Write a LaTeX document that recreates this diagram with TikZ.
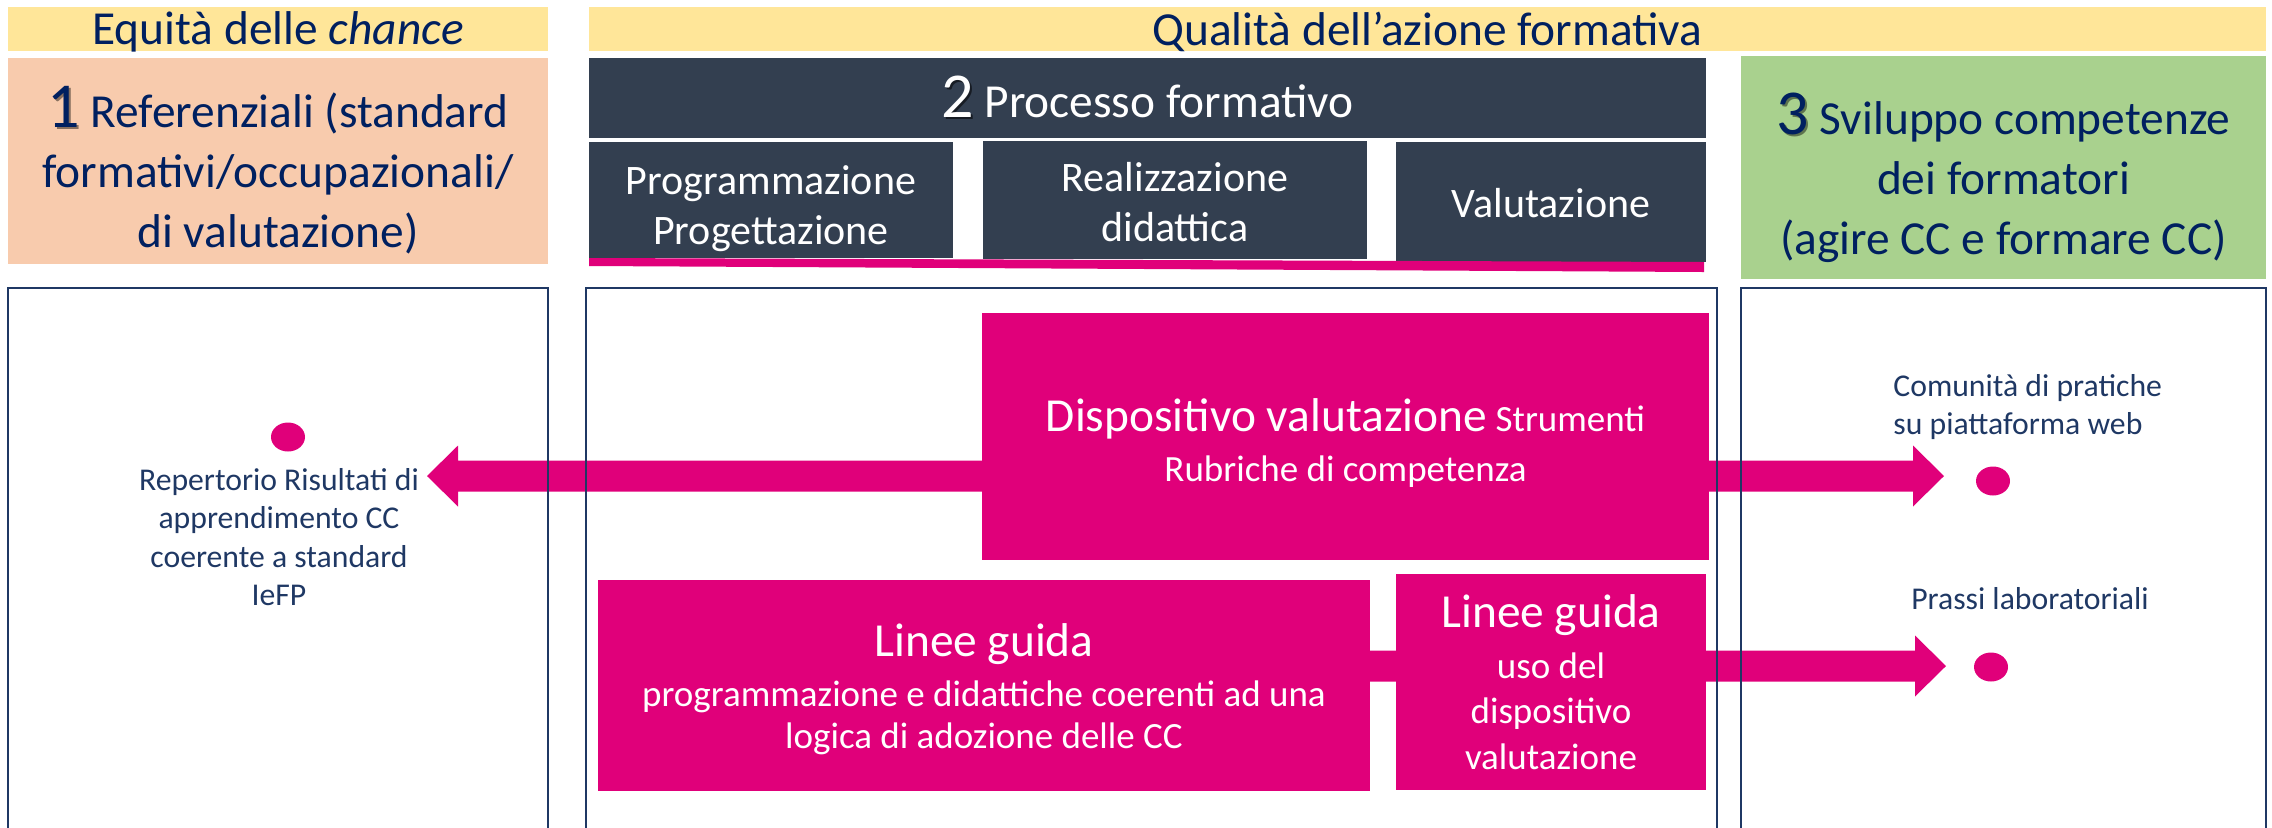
\documentclass[tikz,border=0pt]{standalone}
\usepackage{fontspec}
\setmainfont{Carlito}
\usetikzlibrary{calc,fit,shapes.geometric}
\definecolor{ybar}{HTML}{FFE699}
\definecolor{peach}{HTML}{F8CBAD}
\definecolor{slate}{HTML}{333F50}
\definecolor{mag}{HTML}{E0007A}
\definecolor{lgreen}{HTML}{A9D18E}
\definecolor{navy}{HTML}{002060}
\definecolor{frameblue}{HTML}{1F3864}
\definecolor{txtblue}{HTML}{1F3864}
\newcommand\FBig{\fontsize{23.7pt}{30pt}\selectfont}
\newcommand\FNum{\fontsize{32pt}{30pt}\selectfont}
\newcommand\FSub{\fontsize{21pt}{25pt}\selectfont}
\newcommand\FSmall{\fontsize{15.85pt}{19.3pt}\selectfont}
\newcommand\ShNum[2]{{\FNum\rlap{\kern1.1pt\raisebox{-1.1pt}{\color{#1}#2}}#2}}
\newcommand\WArrow[3]{%
  \fill[mag] let \p1=(#2), \p2=(#3) in
    (\x1,{\y2+7.75pt}) -- ({\x2-(#1)*15.5pt},{\y2+7.75pt}) --
    ({\x2-(#1)*15.5pt},{\y2+15.25pt}) -- (\x2,\y2) --
    ({\x2-(#1)*15.5pt},{\y2-15.25pt}) -- ({\x2-(#1)*15.5pt},{\y2-7.75pt}) --
    (\x1,{\y2-7.75pt}) -- cycle;}
\tikzset{
  box/.style={inner sep=0pt, outer sep=0pt, anchor=north west},
  sz/.style n args={2}{minimum width=#1, minimum height=#2},
  txt/.style={inner sep=0pt, align=center},
  navytxt/.style={txt, text=navy, font=\FBig},
  whitetxt/.style={txt, text=white},
  mtxt/.style={txt, text=white, font=\fontsize{18.5pt}{25pt}\selectfont},
  frame/.style={draw=frameblue, line width=1pt, inner sep=0pt, fill=none},
  bluetxt/.style={inner sep=0pt, text=txtblue, font=\FSmall},
  dot/.style={ellipse, fill=mag, inner sep=0pt, minimum width=17pt, minimum height=14.5pt}
}
\begin{document}
\begin{tikzpicture}[x=0.5pt,y=-0.5pt]
\useasboundingbox (0,0) rectangle (2272,827);
\clip (0,0) rectangle (2272,827);
% headers
\node[box, fill=ybar, sz={270pt}{22pt}] (h1) at (8,7) {};
\node[navytxt, yshift=-1.3pt] (h1t) at (h1.center) {Equità delle \textit{chance}};
\node[box, fill=ybar, sz={838.5pt}{22pt}] (h2) at (589,7) {};
\node[navytxt, yshift=-1.3pt] (h2t) at (h2.center) {Qualità dell’azione formativa};
% column titles
\node[box, fill=peach, sz={270pt}{103pt}] (ref) at (8,58) {};
\node[navytxt, yshift=-4.5pt] (reft) at (ref.center)
  {\ShNum{peach!55!black}{1} Referenziali (standard\\formativi/occupazionali/\\di valutazione)};
\node[box, fill=slate, sz={558.5pt}{40pt}] (proc) at (589,58) {};
\node[whitetxt, font=\FBig] (proct) at (proc.center) {\ShNum{slate!45!black}{2} Processo formativo};
\node[box, fill=slate, sz={182pt}{58pt}] (s1) at (589,142) {};
\node[whitetxt, font=\FSub, yshift=-4.5pt] (s1t) at (s1.center) {Programmazione\\Progettazione};
\node[box, fill=slate, sz={192pt}{59pt}] (s2) at (983,141) {};
\node[whitetxt, font=\FSub, yshift=-1pt] (s2t) at (s2.center) {Realizzazione\\didattica};
\node[box, fill=slate, sz={155pt}{60pt}] (s3) at (1396,142) {};
\node[whitetxt, font=\FSub, yshift=-0.5pt] (s3t) at (s3.center) {Valutazione};
\fill[mag] (s1.south west) -- ($(s3.south east)+(-2,0)$) -- ($(s3.south east)+(-2,10)$) -- ($(s1.south west)+(0,8)$) -- cycle;
\node[box, fill=lgreen, sz={262.5pt}{111.5pt}] (svil) at (1741,56) {};
\node[navytxt, yshift=-5pt] (svilt) at (svil.center)
  {\ShNum{lgreen!55!black}{3} Sviluppo competenze\\dei formatori\\(agire CC e formare CC)};
% magenta boxes
\node[box, fill=mag, sz={363.5pt}{123.5pt}] (disp) at (982,313) {};
\node[mtxt, yshift=-3.5pt] (dispt) at (disp.center)
  {{\FBig Dispositivo valutazione} Strumenti\\Rubriche di competenza};
\node[box, fill=mag, sz={386pt}{105.5pt}] (lg1) at (598,580) {};
\node[mtxt, font=\fontsize{18.5pt}{21pt}\selectfont, yshift=-2pt] (lg1t) at (lg1.center)
  {{\FBig Linee guida}\\[4pt]programmazione e didattiche coerenti ad una\\logica di adozione delle CC};
% arrows
\coordinate (tipL) at (427,476);
\coordinate (tipR1) at (1944,476);
\coordinate (tipR2) at (1946,666);
\WArrow{-1}{disp.west |- tipL}{tipL}
\WArrow{1}{disp.east |- tipR1}{tipR1}
\WArrow{1}{lg1.east |- tipR2}{tipR2}
\node[box, fill=mag, sz={155pt}{108pt}] (lg2) at (1396,574) {};
\node[mtxt, font=\fontsize{18.5pt}{22.75pt}\selectfont] (lg2t) at (lg2.center)
  {{\FBig Linee guida}\\[2.5pt]uso del\\dispositivo\\valutazione};
% dots and texts
\node[dot] (d1) at (288,437) {};
\node[dot] (d2) at (1993,481) {};
\node[dot] (d3) at (1991,667) {};
\node[bluetxt, align=center] (rep) at (279,537)
  {Repertorio Risultati di\\apprendimento CC\\coerente a standard\\IeFP};
\node[bluetxt, align=left, anchor=west] (com) at (1893,407)
  {Comunità di pratiche\\su piattaforma web};
\node[bluetxt] (pra) at (2030,599) {Prassi laboratoriali};
% frames
\node[frame, fit={(8,288)(548,870)}] (colA) {};
\node[frame, fit={(586,288)(1717,870)}] (colB) {};
\node[frame, fit={(1741,288)(2266,870)}] (colC) {};
\end{tikzpicture}
\end{document}
